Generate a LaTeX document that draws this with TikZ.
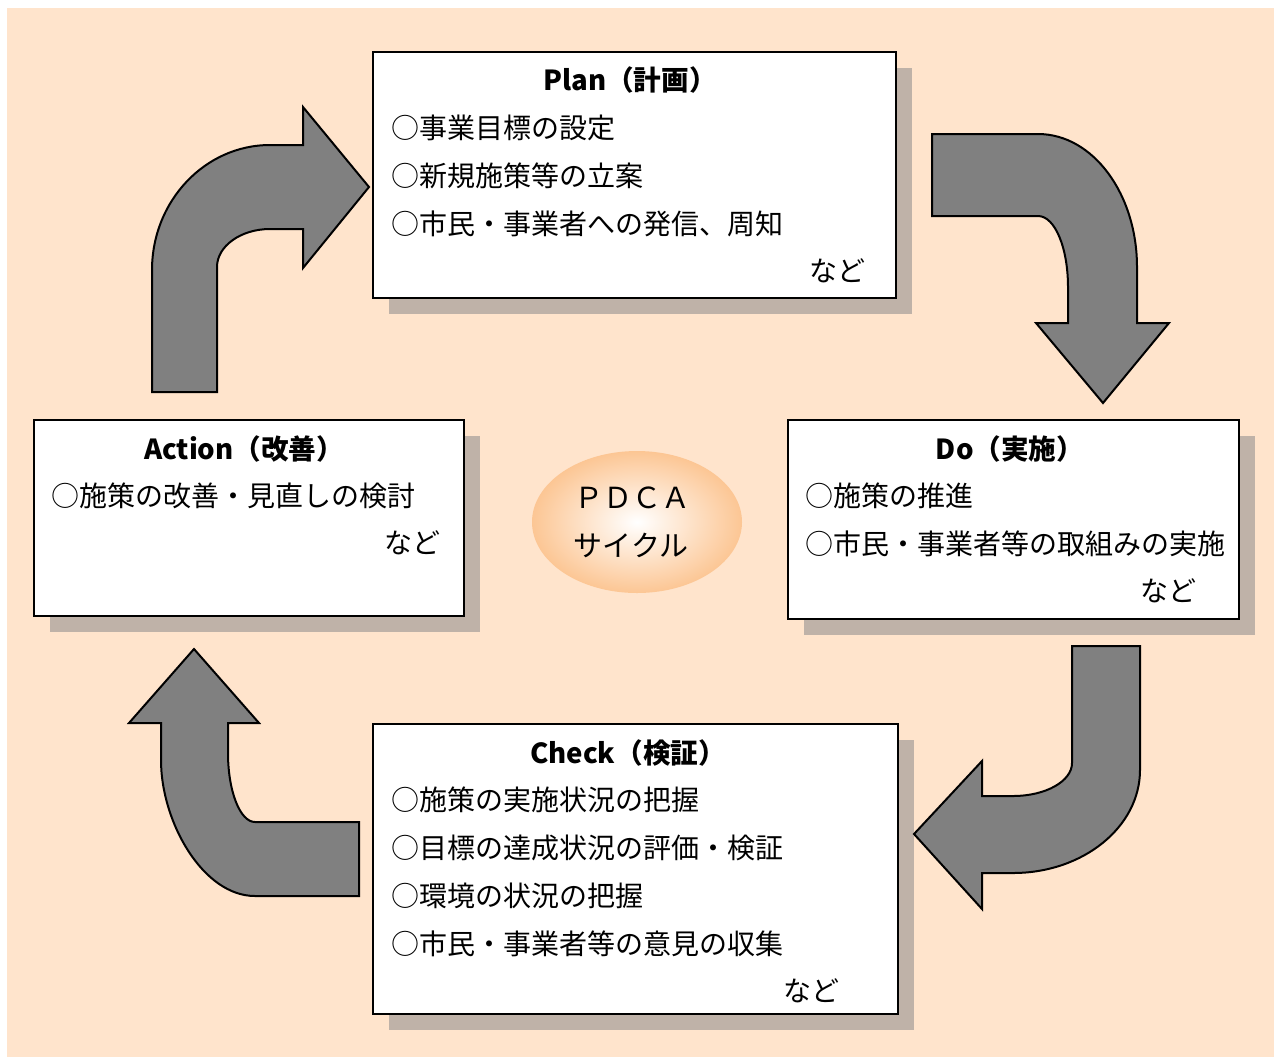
\documentclass[tikz,border=0pt]{standalone}
\usepackage{fontspec}
\setmainfont{Noto Sans CJK JP}
\usetikzlibrary{shadows}
\definecolor{bgpeach}{RGB}{255,228,204}
\definecolor{shadowc}{RGB}{191,178,168}
\definecolor{arrowgray}{RGB}{128,128,128}
\definecolor{ellout}{RGB}{252,198,148}
\begin{document}
\begin{tikzpicture}[x=0.5pt,y=-0.5pt,
  box/.style={draw=black, line width=1pt, fill=white, inner sep=0pt,
    drop shadow={shadow xshift=8pt, shadow yshift=-8pt, fill=shadowc, opacity=1}},
  ttl/.style={inner sep=0pt, font=\fontsize{13.8pt}{16pt}\selectfont\bfseries},
  itm/.style={inner sep=0pt, anchor=west, font=\fontsize{14pt}{16pt}\selectfont},
  etc/.style={inner sep=0pt, anchor=east, font=\fontsize{14pt}{16pt}\selectfont},
  bigarrow/.style={fill=arrowgray, draw=black, line width=1pt, line join=miter}]
\useasboundingbox (0,0) rectangle (1274,1057);
\fill[bgpeach] (7,8) rectangle (1274,1057);

% boxes
\node[box, minimum width=261.5pt, minimum height=123pt] (plan) at (634.5,175) {};
\node[box, minimum width=225.5pt, minimum height=99.5pt] (do) at (1013.5,519.5) {};
\node[box, minimum width=215pt, minimum height=98pt] (act) at (249,518) {};
\node[box, minimum width=262.5pt, minimum height=145pt] (chk) at (635.5,869) {};

% Plan text
\node[ttl] (plant) at (630,80) {Plan（計画）};
\node[itm] (p1) at (391,128) {○事業目標の設定};
\node[itm] (p2) at (391,176) {○新規施策等の立案};
\node[itm] (p3) at (391,224) {○市民・事業者への発信、周知};
\node[etc] (p4) at (866,271) {など};

% Do text
\node[ttl] (dot) at (1010,449) {Do（実施）};
\node[itm] (d1) at (805,496) {○施策の推進};
\node[itm] (d2) at (805,544) {○市民・事業者等の取組みの実施};
\node[etc] (d3) at (1197,591) {など};

% Action text
\node[ttl] (actt) at (244,449) {Action（改善）};
\node[itm] (a1) at (51,496) {○施策の改善・見直しの検討};
\node[etc] (a2) at (441,543) {など};

% Check text
\node[ttl] (chkt) at (628,753) {Check（検証）};
\node[itm] (c1) at (391,800) {○施策の実施状況の把握};
\node[itm] (c2) at (391,848) {○目標の達成状況の評価・検証};
\node[itm] (c3) at (391,896) {○環境の状況の把握};
\node[itm] (c4) at (391,944) {○市民・事業者等の意見の収集};
\node[etc] (c5) at (840,991) {など};

% center ellipse
\shade[inner color=white, outer color=ellout] (637,522) ellipse [x radius=105, y radius=71];
\node[inner sep=0pt, font=\fontsize{14.5pt}{17pt}\selectfont] (pdca) at (632,498) {ＰＤＣＡ};
\node[inner sep=0pt, font=\fontsize{14.5pt}{17pt}\selectfont] (cyc) at (631,545) {サイクル};

% Action -> Plan
\filldraw[bigarrow] (152,392) -- (152,270)
  .. controls (152,201) and (205,145) .. (270,145) -- (303,145) -- (303,107)
  -- (369,187) -- (303,268) -- (303,229) -- (270,229)
  .. controls (241,229) and (217,246) .. (217,267) -- (217,392) -- cycle;

% Plan -> Do
\filldraw[bigarrow] (932,134) -- (1038,134)
  .. controls (1093,134) and (1137,194) .. (1137,267) -- (1137,323) -- (1169,323)
  -- (1103,403) -- (1036,323) -- (1068,323) -- (1068,287)
  .. controls (1068,248) and (1055,216) .. (1038,216) -- (932,216) -- cycle;

% Do -> Check
\filldraw[bigarrow] (1072,646) -- (1140,646) -- (1140,770)
  .. controls (1140,827) and (1083,873) .. (1013,873) -- (982,873) -- (982,909)
  -- (914,834) -- (982,761) -- (982,796) -- (1013,796)
  .. controls (1046,796) and (1072,781) .. (1072,763) -- cycle;

% Check -> Action
\filldraw[bigarrow] (194,649) -- (259,723) -- (228,723) -- (228,753)
  .. controls (228,791) and (240,822) .. (255,822) -- (359,822) -- (359,896)
  -- (255,896) .. controls (203,896) and (161,822) .. (161,760)
  -- (161,723) -- (129,723) -- cycle;
\end{tikzpicture}
\end{document}
